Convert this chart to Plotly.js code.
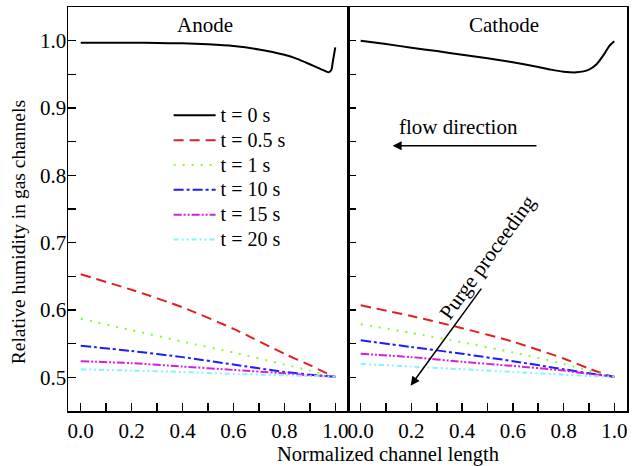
<!DOCTYPE html>
<html><head><meta charset="utf-8">
<script src="https://cdn.plot.ly/plotly-3.0.1.min.js"></script>
<style>html,body{margin:0;padding:0;background:#fff}</style>
</head><body><div id="chart" style="width:632px;height:466px"></div>
<script>
// ---- data ----
const seriesNames = ["t = 0 s", "t = 0.5 s", "t = 1 s", "t = 10 s", "t = 15 s", "t = 20 s"];

const anodeX0 = [0, 0.1, 0.2, 0.3, 0.4, 0.5, 0.6, 0.7, 0.8, 0.85, 0.9, 0.93, 0.96, 0.975, 0.985, 0.99, 1.0];
const anodeY0 = [0.997, 0.997, 0.997, 0.9965, 0.996, 0.9945, 0.992, 0.987, 0.979, 0.973, 0.965, 0.960, 0.955, 0.953, 0.957, 0.968, 0.990];

const cathodeX0 = [0, 0.1, 0.2, 0.3, 0.4, 0.5, 0.6, 0.7, 0.75, 0.8, 0.85, 0.9, 0.93, 0.96, 0.98, 1.0];
const cathodeY0 = [1.0, 0.995, 0.9895, 0.9845, 0.979, 0.974, 0.968, 0.961, 0.957, 0.954, 0.953, 0.957, 0.965, 0.980, 0.992, 0.999];

const purgeX = [0, 0.2, 0.4, 0.6, 0.8, 0.9, 1.0];
const anodeT05 = [0.653, 0.630, 0.604, 0.572, 0.535, 0.518, 0.500];
const anodeT1  = [0.587, 0.570, 0.553, 0.537, 0.519, 0.510, 0.500];
const anodeT10 = [0.547, 0.539, 0.530, 0.519, 0.508, 0.504, 0.501];
const anodeT15 = [0.524, 0.521, 0.516, 0.511, 0.506, 0.503, 0.501];
const anodeT20 = [0.512, 0.510, 0.508, 0.505, 0.503, 0.502, 0.501];

const cathodeT05 = [0.607, 0.591, 0.573, 0.553, 0.528, 0.513, 0.500];
const cathodeT1  = [0.579, 0.566, 0.552, 0.537, 0.520, 0.510, 0.500];
const cathodeT10 = [0.555, 0.545, 0.535, 0.524, 0.512, 0.506, 0.501];
const cathodeT15 = [0.535, 0.530, 0.523, 0.517, 0.510, 0.505, 0.501];
const cathodeT20 = [0.520, 0.516, 0.512, 0.508, 0.504, 0.502, 0.501];

const xTickVals = [0, 0.2, 0.4, 0.6, 0.8, 1.0];
const xTickText = ["0.0", "0.2", "0.4", "0.6", "0.8", "1.0"];
const yTickVals = [0.5, 0.6, 0.7, 0.8, 0.9, 1.0];
const yTickText = ["0.5", "0.6", "0.7", "0.8", "0.9", "1.0"];

// ---- styles ----
const colors = ["#000000", "#e02020", "#80ff30", "#1c1cff", "#d41ee0", "#80f4ff"];
const dashes = ["solid", "10px,6px", "2px,7px", "10px,3px,3px,3px", "8px,2px,2px,2px,2px,2px", "5px,3px,2px,3px,2px,3px"];
const FONT = "Liberation Serif, Times New Roman, serif";
const FS = 21;

const anodeSets = [[anodeX0, anodeY0], [purgeX, anodeT05], [purgeX, anodeT1], [purgeX, anodeT10], [purgeX, anodeT15], [purgeX, anodeT20]];
const cathodeSets = [[cathodeX0, cathodeY0], [purgeX, cathodeT05], [purgeX, cathodeT1], [purgeX, cathodeT10], [purgeX, cathodeT15], [purgeX, cathodeT20]];

const traces = [];
anodeSets.forEach((s, i) => traces.push({
  x: s[0], y: s[1], xaxis: "x", yaxis: "y", type: "scatter", mode: "lines",
  name: "<span style='font-size:20px'>" + seriesNames[i] + "</span>", showlegend: true,
  line: {color: colors[i], width: 2, dash: dashes[i], shape: "spline", smoothing: 0.6}
}));
cathodeSets.forEach((s, i) => traces.push({
  x: s[0], y: s[1], xaxis: "x2", yaxis: "y2", type: "scatter", mode: "lines",
  name: seriesNames[i], showlegend: false,
  line: {color: colors[i], width: 2, dash: dashes[i], shape: "spline", smoothing: 0.6}
}));

const xCommon = {
  range: [-0.05, 1.05], tickmode: "array", tickvals: xTickVals, ticktext: xTickText,
  ticks: "inside", ticklen: 8, tickwidth: 1.5, tickcolor: "#000",
  minor: {tickmode: "linear", tick0: 0, dtick: 0.1, ticks: "inside", ticklen: 8, tickwidth: 1.5, tickcolor: "#000"},
  showline: true, linecolor: "#000", linewidth: 1.5, mirror: true,
  showgrid: false, zeroline: false, fixedrange: true,
  tickfont: {family: FONT, size: FS, color: "#000"}
};
const yCommon = {
  range: [0.45, 1.05], tickmode: "array", tickvals: yTickVals, ticktext: yTickText,
  ticks: "inside", ticklen: 8, tickwidth: 1.5, tickcolor: "#000",
  minor: {tickmode: "linear", tick0: 0.45, dtick: 0.05, ticks: "inside", ticklen: 8, tickwidth: 1.5, tickcolor: "#000"},
  showline: true, linecolor: "#000", linewidth: 1.5, mirror: true,
  showgrid: false, zeroline: false, fixedrange: true,
  tickfont: {family: FONT, size: FS, color: "#000"}
};

const layout = {
  width: 632, height: 466,
  margin: {l: 68, r: 5, t: 7, b: 55},
  paper_bgcolor: "#fff", plot_bgcolor: "#fff",
  font: {family: FONT, size: FS, color: "#000"},
  xaxis: Object.assign({}, xCommon, {domain: [0, 0.5009], anchor: "y"}),
  xaxis2: Object.assign({}, xCommon, {domain: [0.5009, 1], anchor: "y2"}),
  yaxis: Object.assign({}, yCommon, {anchor: "x", ticklabelstandoff: -4}),
  yaxis2: Object.assign({}, yCommon, {anchor: "x2", showticklabels: false}),
  showlegend: true,
  legend: {
    x: 0.18, y: 0.775, xanchor: "left", yanchor: "top",
    bgcolor: "rgba(0,0,0,0)", borderwidth: 0,
    font: {family: FONT, size: 16.8, color: "#000"},
    itemwidth: 42, tracegroupgap: 0
  },
  annotations: [
    {text: "Anode", xref: "x", yref: "paper", x: 0.49, y: 0.955, showarrow: false, xanchor: "center", yanchor: "middle", font: {family: FONT, size: FS}},
    {text: "Cathode", xref: "x2", yref: "paper", x: 0.565, y: 0.955, showarrow: false, xanchor: "center", yanchor: "middle", font: {family: FONT, size: FS}},
    {text: "Normalized channel length", xref: "paper", yref: "paper", x: 0.572, y: -0.108, showarrow: false, xanchor: "center", yanchor: "middle", font: {family: FONT, size: 20.5}},
    {text: "Relative humidity in gas channels", xref: "paper", yref: "paper", x: -0.089, y: 0.443, textangle: -90, showarrow: false, xanchor: "center", yanchor: "middle", font: {family: FONT, size: 19.5}},
    {text: "flow direction", xref: "x2", yref: "y2", x: 0.387, y: 0.872, showarrow: false, xanchor: "center", yanchor: "middle", font: {family: FONT, size: FS}},
    {text: "", xref: "x2", yref: "y2", x: 0.126, y: 0.844, ax: 0.699, ay: 0.844, axref: "x2", ayref: "y2",
     showarrow: true, arrowhead: 2, arrowsize: 1.2, arrowwidth: 1.5, arrowcolor: "#000"},
    {text: "Purge proceeding", xref: "x2", yref: "y2", x: 0.501, y: 0.678, textangle: -54, showarrow: false, xanchor: "center", yanchor: "middle", font: {family: FONT, size: FS}},
    {text: "", xref: "x2", yref: "y2", x: 0.197, y: 0.4876, ax: 0.480, ay: 0.634, axref: "x2", ayref: "y2",
     showarrow: true, arrowhead: 2, arrowsize: 1.2, arrowwidth: 1.5, arrowcolor: "#000"}
  ]
};

Plotly.newPlot("chart", traces, layout, {displayModeBar: false, staticPlot: true});
</script></body></html>
